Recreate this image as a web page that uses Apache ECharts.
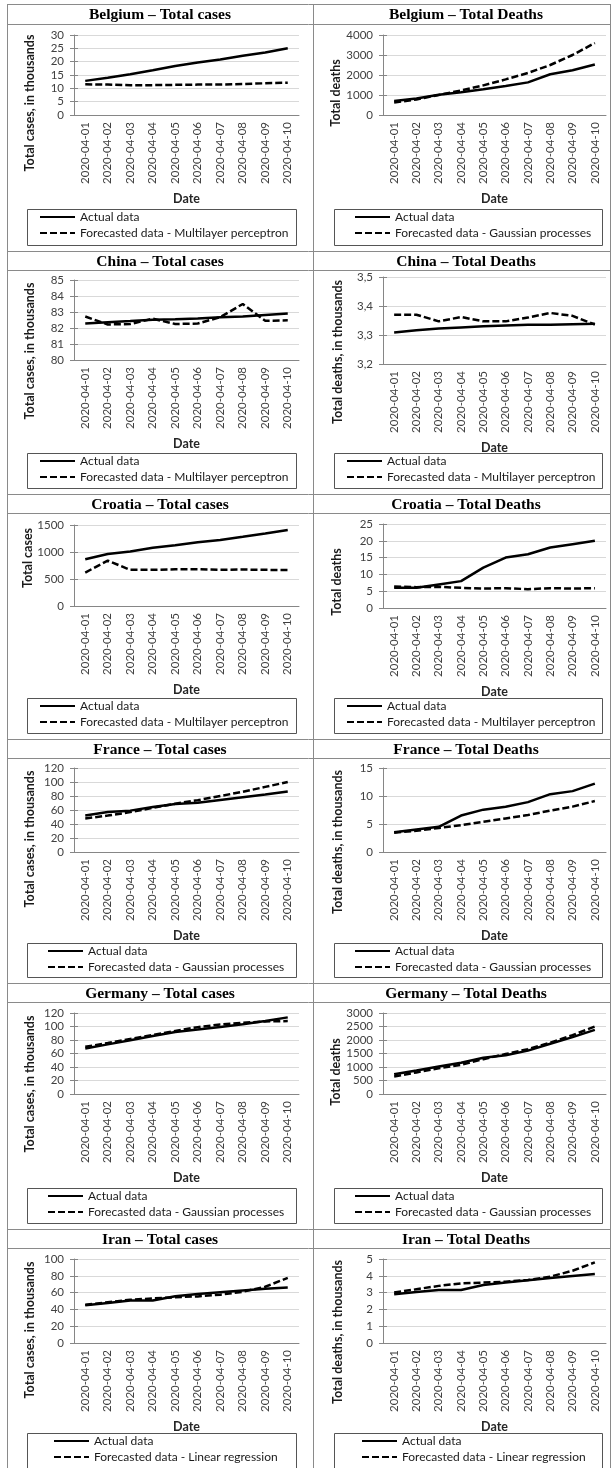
<!DOCTYPE html>
<html>
<head>
<meta charset="utf-8">
<script src="https://cdn.jsdelivr.net/npm/echarts@6/dist/echarts.min.js"></script>
<style>
  html, body { margin: 0; padding: 0; background: #fff; }
  #chart { width: 613px; height: 1468px; }
</style>
</head>
<body>
<div id="chart"></div>
<script>
// Dates on every horizontal axis
const dates = ['2020-04-01', '2020-04-02', '2020-04-03', '2020-04-04', '2020-04-05',
               '2020-04-06', '2020-04-07', '2020-04-08', '2020-04-09', '2020-04-10'];

// Belgium
const belgiumCasesActual   = [12.8, 14.0, 15.3, 16.8, 18.4, 19.7, 20.8, 22.2, 23.4, 25.0];
const belgiumCasesForecast = [11.5, 11.4, 11.2, 11.2, 11.3, 11.4, 11.4, 11.6, 11.9, 12.1];
const belgiumDeathsActual   = [705, 828, 1011, 1143, 1283, 1447, 1632, 2035, 2240, 2523];
const belgiumDeathsForecast = [620, 780, 1000, 1230, 1480, 1780, 2100, 2500, 3000, 3600];

// China
const chinaCasesActual   = [82.28, 82.36, 82.43, 82.51, 82.54, 82.60, 82.67, 82.72, 82.81, 82.90];
const chinaCasesForecast = [82.72, 82.22, 82.25, 82.58, 82.25, 82.28, 82.68, 83.50, 82.45, 82.48];
const chinaDeathsActual   = [3.309, 3.316, 3.322, 3.326, 3.330, 3.333, 3.335, 3.335, 3.337, 3.339];
const chinaDeathsForecast = [3.370, 3.370, 3.347, 3.362, 3.347, 3.347, 3.360, 3.376, 3.366, 3.336];

// Croatia
const croatiaCasesActual   = [867, 963, 1011, 1079, 1126, 1182, 1222, 1282, 1343, 1407];
const croatiaCasesForecast = [620, 840, 670, 670, 680, 680, 670, 675, 670, 665];
const croatiaDeathsActual   = [6, 6, 7, 8, 12, 15, 16, 18, 19, 20];
const croatiaDeathsForecast = [6.4, 6.2, 6.3, 6.0, 5.8, 5.9, 5.6, 5.9, 5.8, 5.9];

// France
const franceCasesActual   = [52.1, 57.0, 59.1, 64.3, 68.6, 70.5, 74.4, 78.2, 82.0, 86.3];
const franceCasesForecast = [48, 52, 57, 63, 69, 74, 80, 86, 93, 100];
const franceDeathsActual   = [3.52, 4.03, 4.50, 6.51, 7.56, 8.08, 8.91, 10.33, 10.87, 12.21];
const franceDeathsForecast = [3.45, 3.8, 4.3, 4.8, 5.4, 6.0, 6.6, 7.4, 8.1, 9.1];

// Germany
const germanyCasesActual   = [67.4, 73.5, 79.7, 85.8, 91.7, 95.4, 99.2, 103.2, 108.2, 113.5];
const germanyCasesForecast = [70, 75.5, 81.5, 87.5, 93.5, 99, 103, 105.5, 107.5, 108];
const germanyDeathsActual   = [732, 872, 1017, 1158, 1342, 1434, 1607, 1861, 2107, 2373];
const germanyDeathsForecast = [650, 800, 950, 1080, 1290, 1480, 1660, 1900, 2180, 2500];

// Iran
const iranCasesActual   = [45.0, 47.6, 50.5, 50.5, 55.7, 58.2, 60.5, 62.6, 64.6, 66.2];
const iranCasesForecast = [45.5, 48.5, 51.5, 53, 54.5, 55.5, 57.5, 61, 67, 77.5];
const iranDeathsActual   = [2.90, 3.04, 3.16, 3.16, 3.45, 3.60, 3.74, 3.87, 3.99, 4.11];
const iranDeathsForecast = [3.0, 3.2, 3.4, 3.55, 3.6, 3.65, 3.75, 3.95, 4.3, 4.8];

// Value-axis scales: [min, max, step]
const scaleCases30 = [0, 30, 5];
const scaleDeaths4000 = [0, 4000, 1000];
const scaleCases85 = [80, 85, 1];
const scaleDeaths35 = [3.2, 3.5, 0.1];
const scaleCases1500 = [0, 1500, 500];
const scaleDeaths25 = [0, 25, 5];
const scaleCases120 = [0, 120, 20];
const scaleDeaths15 = [0, 15, 5];
const scaleDeaths3000 = [0, 3000, 500];
const scaleCases100 = [0, 100, 20];
const scaleDeaths5 = [0, 5, 1];

const ACTUAL = 'Actual data';
const FORECAST = 'Forecasted data - ';

const panels = [
  { title: 'Belgium – Total cases', yName: 'Total cases, in thousands', model: 'Multilayer perceptron', actual: belgiumCasesActual, forecast: belgiumCasesForecast, scale: scaleCases30 },
  { title: 'Belgium – Total Deaths', yName: 'Total deaths', model: 'Gaussian processes', actual: belgiumDeathsActual, forecast: belgiumDeathsForecast, scale: scaleDeaths4000 },
  { title: 'China – Total cases', yName: 'Total cases, in thousands', model: 'Multilayer perceptron', actual: chinaCasesActual, forecast: chinaCasesForecast, scale: scaleCases85 },
  { title: 'China – Total Deaths', yName: 'Total deaths, in thousands', model: 'Multilayer perceptron', actual: chinaDeathsActual, forecast: chinaDeathsForecast, scale: scaleDeaths35, decimalComma: true },
  { title: 'Croatia – Total cases', yName: 'Total cases', model: 'Multilayer perceptron', actual: croatiaCasesActual, forecast: croatiaCasesForecast, scale: scaleCases1500 },
  { title: 'Croatia – Total Deaths', yName: 'Total deaths', model: 'Multilayer perceptron', actual: croatiaDeathsActual, forecast: croatiaDeathsForecast, scale: scaleDeaths25 },
  { title: 'France – Total cases', yName: 'Total cases, in thousands', model: 'Gaussian processes', actual: franceCasesActual, forecast: franceCasesForecast, scale: scaleCases120 },
  { title: 'France – Total Deaths', yName: 'Total deaths, in thousands', model: 'Gaussian processes', actual: franceDeathsActual, forecast: franceDeathsForecast, scale: scaleDeaths15 },
  { title: 'Germany – Total cases', yName: 'Total cases, in thousands', model: 'Gaussian processes', actual: germanyCasesActual, forecast: germanyCasesForecast, scale: scaleCases120 },
  { title: 'Germany – Total Deaths', yName: 'Total deaths', model: 'Gaussian processes', actual: germanyDeathsActual, forecast: germanyDeathsForecast, scale: scaleDeaths3000 },
  { title: 'Iran – Total cases', yName: 'Total cases, in thousands', model: 'Linear regression', actual: iranCasesActual, forecast: iranCasesForecast, scale: scaleCases100 },
  { title: 'Iran – Total Deaths', yName: 'Total deaths, in thousands', model: 'Linear regression', actual: iranDeathsActual, forecast: iranDeathsForecast, scale: scaleDeaths5 }
];

// ---- Layout of the table of small charts ----
const PAGE_L = 7, PAGE_R = 610, COL_DIV = 313, PAGE_B = 1468;
const rowTops = [4, 251, 494, 739, 983, 1229];
const titleBottoms = [24, 270, 513, 758, 1002, 1248];
const legendTops = [209, 453, 698, 943, 1188, 1433];
const legendBottoms = [245, 488, 733, 977, 1223, 1475];
// [plot top, plot height] per chart
const plotBoxes = [[35, 80], [35, 80], [280, 80], [277, 87], [525, 81], [524, 84],
                   [768, 84], [768, 84], [1013, 81], [1013, 81], [1259, 84], [1259, 84]];
// centre of the rotated value-axis title per chart
const yTitleCentres = [[30, 103], [336, 93], [30, 351], [338, 352], [28, 558], [337, 582],
                       [30, 839], [338, 842], [30, 1084], [336, 1072], [30, 1330], [338, 1332]];
const legendLefts = [39, 354, 39, 346, 39, 346, 47, 354, 47, 354, 53, 361];

const AXIS = '#868686', GRIDLINE = '#d9d9d9', LABEL = '#404040', BORDER = '#8a8a8a';
const SANS = 'Lato';

const grid = [], xAxis = [], yAxis = [], series = [], legend = [], graphic = [];

panels.forEach((p, i) => {
  const col = i % 2, row = Math.floor(i / 2);
  const left = col ? 383 : 74;
  const width = col ? 223 : 225;
  const [top, height] = plotBoxes[i];
  const [yMin, yMax, yStep] = p.scale;
  grid.push({ left, top, width, height });

  // category axis with ticks drawn on both sides of the line
  xAxis.push({
    gridIndex: i, type: 'category', data: dates, position: 'bottom', boundaryGap: true,
    axisLine: { lineStyle: { color: AXIS, width: 1 } },
    axisTick: { length: 4, lineStyle: { color: AXIS } },
    axisLabel: { rotate: 90, margin: 7, interval: 0, fontFamily: SANS, fontSize: 11.5, color: LABEL },
    name: 'Date', nameLocation: 'middle', nameGap: 77,
    nameTextStyle: { fontFamily: SANS, fontWeight: 'bold', fontSize: 12.5, color: '#262626' }
  });
  xAxis.push({
    gridIndex: i, type: 'category', data: dates, position: 'bottom', boundaryGap: true,
    axisLine: { show: false },
    axisTick: { inside: true, length: 4, lineStyle: { color: AXIS } },
    axisLabel: { show: false }
  });

  const fmt = v => p.decimalComma ? v.toFixed(1).replace('.', ',') : String(Math.round(v));
  yAxis.push({
    gridIndex: i, type: 'value', position: 'left', min: yMin, max: yMax, interval: yStep,
    axisLine: { show: true, lineStyle: { color: AXIS, width: 1 } },
    axisTick: { show: true, length: 4, lineStyle: { color: AXIS } },
    axisLabel: { margin: 10, fontFamily: SANS, fontSize: 11.5, color: LABEL, formatter: fmt },
    splitLine: { show: true, lineStyle: { color: GRIDLINE, width: 1 } }
  });
  yAxis.push({
    gridIndex: i, type: 'value', position: 'left', min: yMin, max: yMax, interval: yStep,
    axisLine: { show: false },
    axisTick: { show: true, inside: true, length: 4, lineStyle: { color: AXIS } },
    axisLabel: { show: false },
    splitLine: { show: false }
  });

  series.push({
    type: 'line', name: ACTUAL, xAxisIndex: 2 * i, yAxisIndex: 2 * i,
    data: p.actual, symbol: 'none', silent: true,
    lineStyle: { color: '#000', width: 2.5 }, itemStyle: { color: '#000' }
  });
  series.push({
    type: 'line', name: FORECAST + p.model, xAxisIndex: 2 * i, yAxisIndex: 2 * i,
    data: p.forecast, symbol: 'none', silent: true,
    lineStyle: { color: '#000', width: 2.5, type: [7, 3] }, itemStyle: { color: '#000' }
  });

  // legend keys show only the line sample (no point marker)
  legend.push({
    data: [ACTUAL, FORECAST + p.model], orient: 'vertical', selectedMode: false,
    left: legendLefts[i], top: legendTops[row] + 2, padding: 0,
    itemWidth: 35, itemHeight: 12, itemGap: 4,
    itemStyle: { opacity: 0, borderWidth: 0 },
    textStyle: { fontFamily: SANS, fontSize: 12, color: '#1a1a1a' }
  });

  // legend frame
  const boxL = col ? 334 : 27, boxR = col ? 602 : 296;
  graphic.push({
    type: 'rect', silent: true, z: 1,
    shape: { x: boxL + 0.5, y: legendTops[row] + 0.5, width: boxR - boxL, height: legendBottoms[row] - legendTops[row] },
    style: { fill: '#fff', stroke: '#555', lineWidth: 1 }
  });

  // chart title in its table cell
  const cx = col ? 466 : (PAGE_L + COL_DIV) / 2;
  graphic.push({
    type: 'text', silent: true, z: 10,
    x: cx, y: (rowTops[row] + titleBottoms[row]) / 2 + 1,
    style: { text: p.title, font: 'bold 15.5px "Liberation Serif"', fill: '#000',
             align: 'center', verticalAlign: 'middle', textAlign: 'center', textVerticalAlign: 'middle' }
  });

  // rotated value-axis title
  const [tx, ty] = yTitleCentres[i];
  graphic.push({
    type: 'text', silent: true, z: 10, x: tx, y: ty, rotation: Math.PI / 2,
    style: { text: p.yName, font: 'bold 12.5px Lato', fill: '#1a1a1a',
             align: 'center', verticalAlign: 'middle', textAlign: 'center', textVerticalAlign: 'middle' }
  });
});

// table rules
const hLine = (y) => ({ type: 'line', silent: true, z: 2,
  shape: { x1: PAGE_L, y1: y + 0.5, x2: PAGE_R, y2: y + 0.5 }, style: { stroke: BORDER, lineWidth: 1 } });
const vLine = (x) => ({ type: 'line', silent: true, z: 2,
  shape: { x1: x + 0.5, y1: rowTops[0], x2: x + 0.5, y2: PAGE_B }, style: { stroke: BORDER, lineWidth: 1 } });
rowTops.forEach(y => graphic.push(hLine(y)));
titleBottoms.forEach(y => graphic.push(hLine(y)));
graphic.push(vLine(PAGE_L), vLine(COL_DIV), vLine(PAGE_R));

const chart = echarts.init(document.getElementById('chart'), null, { renderer: 'canvas' });
chart.setOption({
  backgroundColor: '#fff',
  animation: false,
  grid, xAxis, yAxis, series, legend,
  graphic: { elements: graphic }
});
</script>
</body>
</html>
